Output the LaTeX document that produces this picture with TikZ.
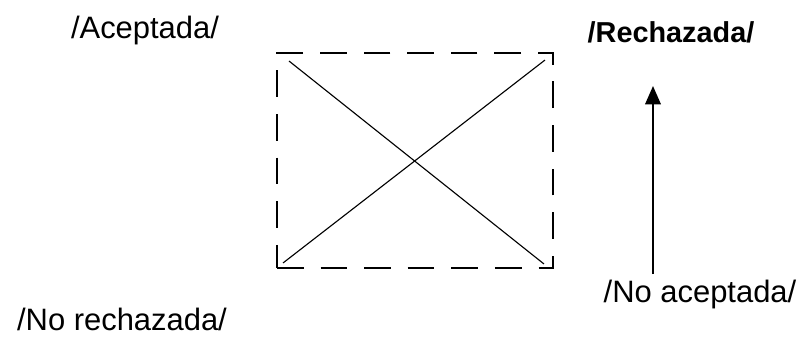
\documentclass[tikz,border=0pt]{standalone}
\usepackage{fontspec}
\setmainfont{Liberation Sans}
\usetikzlibrary{arrows.meta,positioning,calc}

\begin{document}
\begin{tikzpicture}[
    x=0.025cm, y=-0.025cm,
    lbl/.style={inner sep=0pt, font=\fontsize{22}{26}\selectfont},
    framebox/.style={draw, dash pattern=on 19pt off 12pt, line width=1.3pt,
      inner sep=0pt, minimum width=6.9cm, minimum height=5.375cm},
    cross/.style={line width=0.8pt},
    arr/.style={-{Triangle[length=13pt, width=11pt]}, line width=1.4pt}
  ]
    \useasboundingbox (0,0) rectangle (805,337);
    \node[lbl] (acep) at (145,30) {/Aceptada/};
    \node[lbl, font=\fontsize{20.5}{24}\selectfont\bfseries] (rech) at (671,32) {/Rechazada/};
    \node[lbl] (norech) at (122,319) {/No rechazada/};
    \node[lbl] (noacep) at (700,294) {/No aceptada/};
    \node[framebox] (frame) at (415,160.5) {};
    \draw[cross] ($(frame.north west)+(13,9)$) -- ($(frame.south east)+(-10,-5)$);
    \draw[cross] ($(frame.north east)+(-9,8)$) -- ($(frame.south west)+(7,-6)$);
    \coordinate (arrbot) at (653,274);
    \coordinate (arrtop) at (653,86);
    \draw[arr] (arrbot) -- (arrtop);
  \end{tikzpicture}
\end{document}
